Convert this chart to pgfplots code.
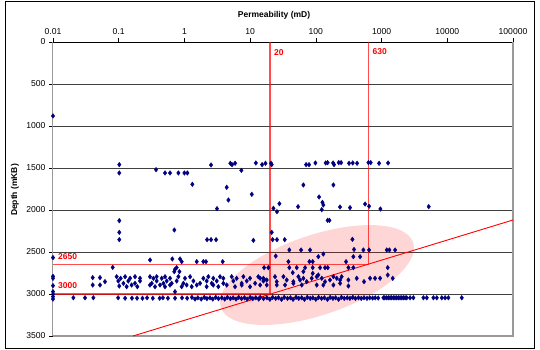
\documentclass[border=0pt]{standalone}
\usepackage{fontspec}
\setmainfont{Liberation Sans}
\usepackage{pgfplots}
\pgfplotsset{compat=1.18}
\usepackage{pgfplotstable}
\usetikzlibrary{shapes.geometric}
\definecolor{ptblue}{RGB}{0,0,128}

\pgfplotstableread{
x y
0.01 880
0.102 1460
0.102 1559
0.37 1520
0.507 1559
0.604 1559
0.81 1559
1.0 1559
1.11 1559
1.32 1694
2.54 1464
5.0 1444
5.3 1460
5.9 1444
7.35 1528
4.40 1730
4.67 1881
3.13 1984
10.6 1813
12.2 1440
15.2 1460
17.1 1444
20.8 1444
21.3 1460
22.6 1980
27.9 1925
25.6 2020
53.6 1960
64.6 1702
71.0 1460
78.8 1460
98.5 1440
141 1440
151 1436
183 1440
189 1460
223 1436
242 1436
320 1444
364 1440
424 1444
630 1436
684 1436
916 1444
1256 1440
185 1702
112 1845
126 1909
130 1940
123 1996
233 1964
331 1972
561 1929
646 1956
960 1988
5220 1960
0.102 2127
0.102 2266
0.102 2353
0.703 2238
2.21 2353
2.54 2353
3.03 2353
11.2 2361
21.3 2266
22.0 2353
25.6 2353
33.6 2353
151 2123
161 2123
360 2349
0.01 2567
0.01 2790
0.01 2813
0.01 2901
0.01 2972
0.01 3004
0.01 3032
0.01 3060
39.5 2476
59.6 2476
81.6 2476
381 2470
529 2476
646 2476
1199 2476
1316 2476
1607 2476
130 2524
109 2556
24.5 2548
372 2556
471 2556
0.30 2595
0.655 2583
0.857 2583
0.909 2615
1.54 2615
1.94 2615
2.13 2615
3.82 2615
38.2 2615
79.8 2615
89.6 2615
288 2615
0.081 2683
0.719 2706
0.762 2686
0.84 2734
0.70 2734
16.3 2686
18.9 2686
39.5 2686
51.2 2686
68.6 2686
89.6 2686
116 2686
138 2686
152 2686
313 2686
372 2686
1241 2686
44.5 2746
64.6 2734
89.6 2754
1241 2774
0.0402 2805
0.0519 2805
0.0931 2794
0.107 2813
0.125 2794
0.149 2813
0.177 2794
0.211 2813
0.299 2794
0.337 2813
0.378 2794
0.451 2813
0.507 2794
0.604 2813
0.809 2794
1.02 2813
1.22 2794
1.94 2813
2.31 2794
2.75 2813
3.48 2794
3.91 2813
5.24 2794
6.24 2813
7.89 2794
9.96 2813
13.3 2794
15.9 2813
0.0618 2853
0.0986 2845
0.118 2873
0.140 2845
0.177 2873
0.211 2845
0.318 2873
0.378 2845
0.478 2873
0.537 2845
0.640 2873
0.762 2845
0.964 2873
1.37 2845
1.73 2873
2.18 2845
2.60 2873
3.10 2845
3.91 2873
5.56 2845
7.44 2873
8.87 2845
11.9 2873
15.9 2845
0.0402 2893
0.0519 2893
0.102 2905
0.132 2913
0.157 2893
0.192 2913
0.299 2893
0.357 2913
0.425 2893
0.507 2913
0.604 2893
0.908 2913
1.08 2893
1.29 2913
1.54 2893
2.18 2913
2.75 2893
3.28 2913
4.40 2893
5.89 2913
7.44 2893
9.96 2913
14.2 2893
0.719 2972
14.2 2813
16.5 2830
17.9 2833
23.9 2794
25.4 2853
32.1 2794
36.0 2833
45.5 2853
54.2 2794
57.5 2833
64.6 2813
72.6 2853
86.5 2813
103 2794
109 2774
123 2813
138 2853
164 2833
185 2794
208 2813
234 2833
247 2794
313 2833
419 2813
541 2853
668 2813
796 2813
949 2813
1479 2813
17.9 2893
25.4 2893
34.0 2893
45.5 2873
61.0 2893
103 2893
130 2893
185 2893
234 2873
313 2905
0.0204 3045
0.0307 3045
0.0411 3045
0.098 3045
0.125 3050
0.159 3050
0.19 3050
0.23 3050
0.27 3045
0.33 3050
0.42 3050
0.47 3045
0.56 3050
0.72 3050
0.92 3045
1.1 3050
1.3 3040
1.45 3060
1.6 3045
1.8 3060
2.0 3040
2.2 3055
2.45 3045
2.7 3060
3.0 3040
3.3 3055
3.7 3045
4.1 3060
4.5 3040
5.0 3055
5.5 3045
6.1 3060
6.7 3040
7.4 3055
8.2 3045
9.0 3060
10 3040
11 3055
12.2 3045
13.5 3060
14.2 3040
16 3055
18 3045
20 3063
22 3040
24.5 3052
27 3045
30 3063
33 3040
37 3052
41 3045
45 3063
50 3040
55 3052
61 3045
67 3063
74 3040
82 3052
90 3045
100 3063
110 3040
122 3052
135 3045
150 3063
165 3040
182 3052
200 3045
222 3063
245 3040
270 3052
300 3045
330 3052
365 3040
400 3052
445 3045
490 3052
540 3045
600 3052
660 3045
730 3048
800 3045
890 3048
1067 3045
1120 3045
1199 3045
1270 3045
1347 3045
1420 3045
1514 3045
1600 3045
1701 3045
1800 3045
1911 3045
2030 3045
2147 3045
2280 3045
2413 3045
2713 3045
3048 3045
4330 3045
4870 3045
6150 3045
6920 3045
8240 3045
9250 3045
10400 3045
16600 3045
}\permdata

\begin{document}
\begin{tikzpicture}
\path[use as bounding box] (-53pt,-14pt) rectangle (487pt,336pt);
\draw[black, line width=0.8pt] (-48pt,-12pt) rectangle (481pt,335pt);
\begin{axis}[
  at={(0pt,0pt)}, anchor=south west,
  scale only axis, width=460pt, height=294pt,
  xmode=log, xmin=0.01, xmax=100000,
  ymin=0, ymax=3500, y dir=reverse,
  axis x line*=top, axis y line*=left,
  x axis line style={-, black, line width=0.9pt},
  y axis line style={-, black!40, line width=1pt},
  xtick={0.01,0.1,1,10,100,1000,10000,100000},
  xticklabels={0.01,0.1,1,10,100,1000,10000,100000},
  xminorticks=false, yminorticks=false,
  ytick={0,500,...,3500},
  /pgf/number format/1000 sep={},
  /pgf/number format/assume math mode=true,
  ymajorgrids, grid style={black!75, line width=0.6pt},
  tick align=outside, major tick length=4pt,
  tick style={black, line width=0.6pt},
  tick label style={font=\fontsize{8.6}{10}\selectfont},
  clip=false,
]
\addplot[only marks, mark=diamond*, mark size=2.3pt, color=ptblue] table[x=x,y=y]{\permdata};
\node[ellipse, minimum width=203pt, minimum height=80pt, rotate=18.7, fill=red, fill opacity=0.16, inner sep=0pt] at (axis cs:104,2774) {};
\draw[black!40, line width=1.2pt] (axis cs:100000,0) -- (axis cs:100000,3500) -- (axis cs:0.01,3500);
\addplot[red, opacity=0.7, line width=1.3pt] coordinates {(20,0) (20,3000)};
\addplot[red, opacity=0.7, line width=1.3pt] coordinates {(630,0) (630,2650)};
\addplot[red, opacity=0.7, line width=1.3pt] coordinates {(0.01,2650) (630,2650)};
\addplot[red, opacity=0.7, line width=1.3pt] coordinates {(0.01,3000) (20,3000)};
\addplot[red, line width=0.9pt] coordinates {(0.165,3500) (100000,2119)};
\node[anchor=west, text=red, font=\bfseries\fontsize{8.5}{10}\selectfont, inner sep=0pt, xshift=4pt] at (axis cs:20,120) {20};
\node[anchor=west, text=red, font=\bfseries\fontsize{8.5}{10}\selectfont, inner sep=0pt, xshift=4pt] at (axis cs:630,120) {630};
\node[anchor=west, text=red, font=\bfseries\fontsize{8.5}{10}\selectfont, inner sep=0pt, xshift=5pt, yshift=8pt] at (axis cs:0.01,2650) {2650};
\node[anchor=west, text=red, font=\bfseries\fontsize{8.5}{10}\selectfont, inner sep=0pt, xshift=5pt, yshift=8pt] at (axis cs:0.01,3000) {3000};
\end{axis}
\node[font=\bfseries\fontsize{8.5}{10}\selectfont] at (221pt,321pt) {Permeability (mD)};
\node[font=\bfseries\fontsize{8.5}{10}\selectfont, rotate=90] at (-38pt,146pt) {Depth (mKB)};
\end{tikzpicture}
\end{document}
